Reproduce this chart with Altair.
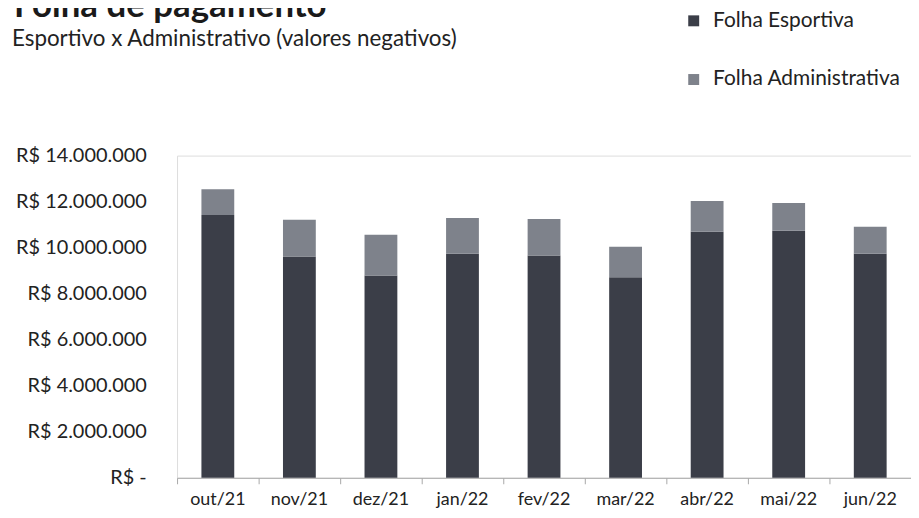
import altair as alt
import pandas as pd

meses = ["out/21", "nov/21", "dez/21", "jan/22", "fev/22", "mar/22", "abr/22", "mai/22", "jun/22"]
esportiva = [11420000, 9610000, 8790000, 9740000, 9660000, 8710000, 10690000, 10730000, 9740000]
administrativa = [1120000, 1600000, 1770000, 1550000, 1590000, 1330000, 1340000, 1210000, 1170000]
series = ["Folha Esportiva", "Folha Administrativa"]
cores = ["#3b3e48", "#7e828b"]
y_ticks = [0, 2000000, 4000000, 6000000, 8000000, 10000000, 12000000, 14000000]

rows = []
for i, m in enumerate(meses):
    rows.append({"mes": m, "serie": series[0], "valor": esportiva[i], "ord": 0})
    rows.append({"mes": m, "serie": series[1], "valor": administrativa[i], "ord": 1})
df = pd.DataFrame(rows)

FONT = "Lato"

bars = alt.Chart(df).mark_bar(size=33).encode(
    x=alt.X("mes:N", sort=meses, title=None,
            scale=alt.Scale(paddingInner=0, paddingOuter=0),
            axis=alt.Axis(labelAngle=0, labelFont=FONT, labelFontSize=18, labelColor="#222222",
                          domainColor="#a8a8a8", tickColor="#a8a8a8", tickSize=6, bandPosition=0,
                          labelPadding=7, grid=False)),
    y=alt.Y("valor:Q", stack="zero", title=None,
            scale=alt.Scale(domain=[0, 14000000], nice=False),
            axis=alt.Axis(values=y_ticks, grid=False, domain=False, ticks=False, labelPadding=31,
                          labelFont=FONT, labelFontSize=20, labelColor="#222222",
                          labelExpr="datum.value == 0 ? 'R$ -' : 'R$ ' + replace(replace(format(datum.value, ',.0f'), ',', '.'), ',', '.')")),
    color=alt.Color("serie:N", scale=alt.Scale(domain=series, range=cores),
                    legend=alt.Legend(title=None, orient="none", legendX=509, legendY=-146,
                                      symbolType="square", symbolSize=121, symbolStrokeWidth=0,
                                      labelFont=FONT, labelFontSize=21, labelColor="#222222",
                                      labelLimit=400,
                                      labelOffset=9, rowPadding=37, padding=0)),
    order=alt.Order("ord:Q", sort="ascending"),
)

titulo = alt.Chart(pd.DataFrame({"t": ["Folha de pagamento"]})).mark_text(
    align="left", baseline="alphabetic", font=FONT, fontSize=35, fontWeight="bold", color="#1a1a1a"
).encode(x=alt.value(-164), y=alt.value(-139), text="t:N")

subtitulo = alt.Chart(pd.DataFrame({"t": ["Esportivo x Administrativo (valores negativos)"]})).mark_text(
    align="left", baseline="alphabetic", font=FONT, fontSize=22.5, color="#222222"
).encode(x=alt.value(-166), y=alt.value(-110), text="t:N")

chart = alt.layer(bars, titulo, subtitulo).properties(
    width=738, height=324,
    autosize=alt.AutoSizeParams(type="none"),
    padding={"left": 170, "top": 147, "right": 0, "bottom": 35},
).configure_view(stroke=None).configure(background="white")

chart.save("out.html", embed_options={"renderer": "svg", "actions": False})
